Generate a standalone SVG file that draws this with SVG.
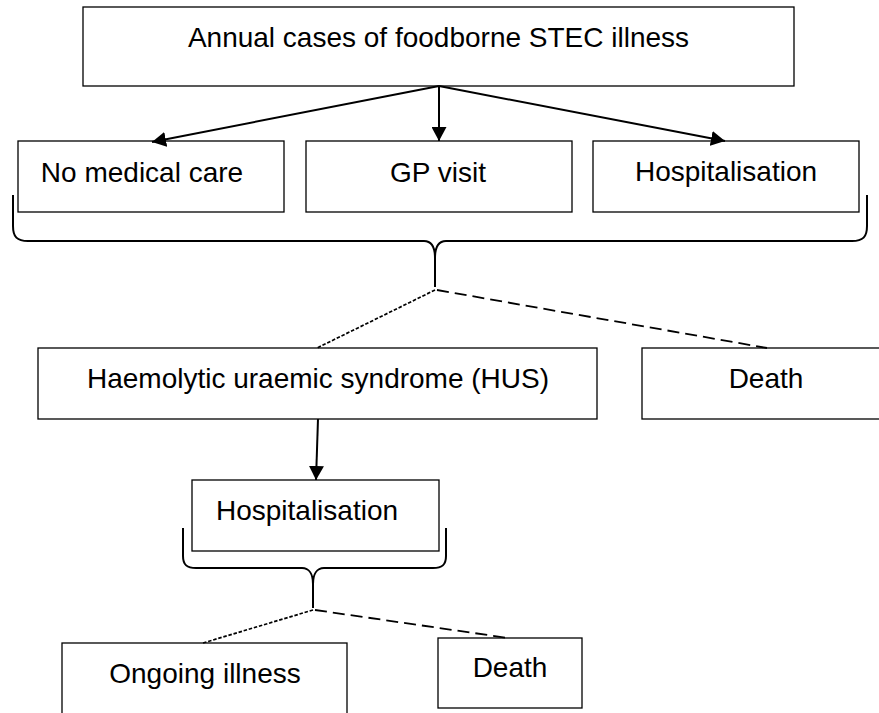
<svg xmlns="http://www.w3.org/2000/svg" width="879" height="713" viewBox="0 0 879 713">
  <style>
    .box { fill: #ffffff; stroke: #000000; stroke-width: 1.3; }
    .lbl { font-family: "Liberation Sans", Arial, sans-serif; font-size: 28px; fill: #000000; text-anchor: middle; }
    .arrow { stroke: #000000; stroke-width: 2; fill: none; marker-end: url(#head); }
    .brace { stroke: #000000; stroke-width: 2; fill: none; }
    .dot { stroke: #000000; stroke-width: 1.7; fill: none; stroke-dasharray: 3.5 1.8; }
    .dash { stroke: #000000; stroke-width: 1.8; fill: none; stroke-dasharray: 12 6; }
  </style>
  <defs>
    <marker id="head" markerUnits="userSpaceOnUse" markerWidth="15" markerHeight="15" refX="14" refY="7.5" orient="auto">
      <path d="M0,0 L14,7.5 L0,15 Z" fill="#000000"/>
    </marker>
  </defs>
  <rect width="879" height="713" fill="#ffffff"/>

  <g id="annual-cases">
    <rect class="box" x="83" y="7" width="711" height="79"/>
    <text class="lbl" x="438.5" y="47">Annual cases of foodborne STEC illness</text>
  </g>
  <g id="no-medical-care">
    <rect class="box" x="18" y="141" width="266" height="71"/>
    <text class="lbl" x="142" y="182">No medical care</text>
  </g>
  <g id="gp-visit">
    <rect class="box" x="306" y="141" width="266" height="71"/>
    <text class="lbl" x="438" y="182">GP visit</text>
  </g>
  <g id="hospitalisation">
    <rect class="box" x="593" y="141" width="266" height="71"/>
    <text class="lbl" x="726" y="181">Hospitalisation</text>
  </g>
  <g id="hus">
    <rect class="box" x="38" y="348" width="559" height="71"/>
    <text class="lbl" x="318" y="388">Haemolytic uraemic syndrome (HUS)</text>
  </g>
  <g id="death">
    <rect class="box" x="642" y="348" width="250" height="71"/>
    <text class="lbl" x="766" y="388">Death</text>
  </g>
  <g id="hus-hospitalisation">
    <rect class="box" x="192" y="480" width="247" height="71"/>
    <text class="lbl" x="307" y="520">Hospitalisation</text>
  </g>
  <g id="ongoing-illness">
    <rect class="box" x="62" y="643" width="285" height="80"/>
    <text class="lbl" x="205" y="683">Ongoing illness</text>
  </g>
  <g id="hus-death">
    <rect class="box" x="438" y="638" width="144" height="70"/>
    <text class="lbl" x="510" y="677">Death</text>
  </g>

  <g id="connectors">
    <!-- arrows from the annual cases box -->
    <line class="arrow" x1="439" y1="86" x2="152" y2="142"/>
    <line class="arrow" x1="439" y1="86" x2="439" y2="141"/>
    <line class="arrow" x1="439" y1="86" x2="725" y2="141"/>
    <!-- brace grouping the three care levels -->
    <path class="brace" d="M13,195 L13,226 C13,237 17,241 28,241 L424,241 C431,241 435,247 435,258 L435,287 M435,287 L435,258 C435,247 439,241 446,241 L852,241 C863,241 867,237 867,226 L867,195"/>
    <line class="dot" x1="435" y1="290" x2="317" y2="348"/>
    <line class="dash" x1="437" y1="290" x2="767" y2="348"/>
    <!-- HUS to hospitalisation -->
    <line class="arrow" x1="318" y1="419" x2="316" y2="480"/>
    <!-- brace under the HUS hospitalisation -->
    <path class="brace" d="M183,528 L183,556 C183,565 187,568 196,568 L302,568 C309,568 313,574 313,584 L313,608 M313,608 L313,584 C313,574 317,568 324,568 L433,568 C442,568 446,565 446,556 L446,528"/>
    <line class="dot" x1="313" y1="610" x2="203" y2="643"/>
    <line class="dash" x1="315" y1="610" x2="508" y2="638"/>
  </g>
</svg>
